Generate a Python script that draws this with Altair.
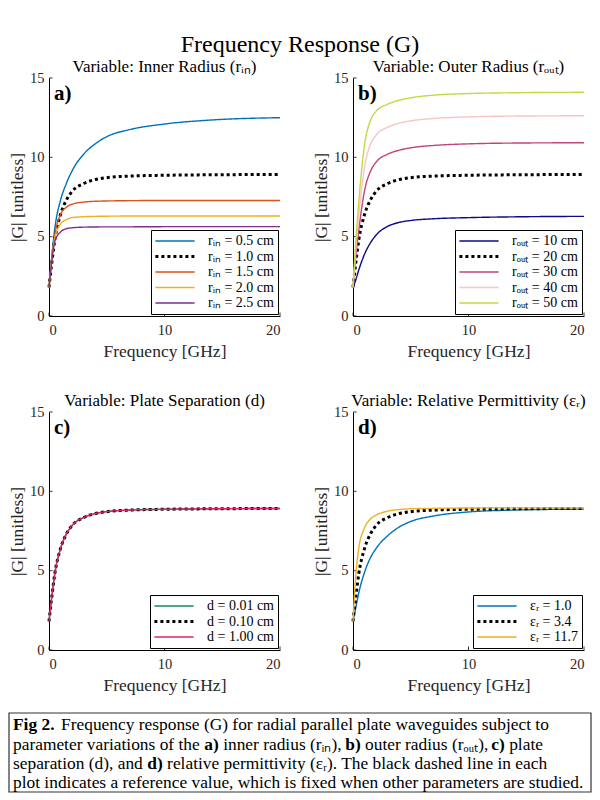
import altair as alt
import pandas as pd

SERIF = "Liberation Serif"

# frequency samples [GHz]
freq = [0, 0.25, 0.5, 1, 1.5, 2, 3, 4, 5, 7, 10, 14, 20]
x_ticks = [0, 10, 20]
y_ticks = [0, 5, 10, 15]

# reference curve (black dotted line in every panel)
g_ref = [1.8, 3.4, 4.8, 6.4, 7.3, 7.85, 8.35, 8.6, 8.72, 8.82, 8.87, 8.9, 8.92]

# a) inner radius
rin_labels = ["rᵢₙ = 0.5 cm", "rᵢₙ = 1.0 cm", "rᵢₙ = 1.5 cm", "rᵢₙ = 2.0 cm", "rᵢₙ = 2.5 cm"]
g_rin_05 = [1.8, 3.8, 5.5, 7.3, 8.35, 9.15, 10.2, 10.85, 11.3, 11.75, 12.1, 12.35, 12.5]
g_rin_15 = [1.8, 3.7, 5.1, 6.4, 6.85, 7.05, 7.18, 7.23, 7.25, 7.27, 7.28, 7.28, 7.28]
g_rin_20 = [1.8, 3.6, 4.9, 5.8, 6.08, 6.2, 6.26, 6.28, 6.29, 6.3, 6.3, 6.3, 6.3]
g_rin_25 = [1.8, 3.5, 4.7, 5.3, 5.5, 5.56, 5.6, 5.61, 5.62, 5.62, 5.63, 5.63, 5.63]
rin_colors = ["#0072BD", "#000000", "#D95319", "#EDB120", "#7E2F8E"]

# b) outer radius
rout_labels = ["rₒᵤₜ = 10 cm", "rₒᵤₜ = 20 cm", "rₒᵤₜ = 30 cm", "rₒᵤₜ = 40 cm", "rₒᵤₜ = 50 cm"]
g_rout_10 = [1.8, 2.3, 2.9, 3.9, 4.6, 5.1, 5.65, 5.9, 6.02, 6.13, 6.2, 6.25, 6.28]
g_rout_30 = [1.8, 3.8, 5.4, 7.9, 9.1, 9.7, 10.2, 10.45, 10.6, 10.75, 10.85, 10.9, 10.92]
g_rout_40 = [1.8, 4.3, 6.3, 9.4, 10.8, 11.4, 11.9, 12.15, 12.3, 12.45, 12.55, 12.6, 12.62]
g_rout_50 = [1.8, 4.8, 7.2, 10.8, 12.3, 12.9, 13.35, 13.6, 13.75, 13.92, 14.02, 14.07, 14.1]
rout_colors = ["#0B0B8C", "#000000", "#C0457A", "#F7C5C2", "#C5D843"]

# c) plate separation (all three curves coincide)
d_labels = ["d = 0.01 cm", "d = 0.10 cm", "d = 1.00 cm"]
g_d_001 = [1.8, 3.4, 4.8, 6.4, 7.3, 7.85, 8.35, 8.6, 8.72, 8.82, 8.87, 8.9, 8.92]
g_d_100 = [1.8, 3.4, 4.8, 6.4, 7.3, 7.85, 8.35, 8.6, 8.72, 8.82, 8.87, 8.9, 8.92]
d_colors = ["#138A5E", "#000000", "#E0245E"]

# d) relative permittivity
er_labels = ["εᵣ = 1.0", "εᵣ = 3.4", "εᵣ = 11.7"]
g_er_10 = [1.8, 2.7, 3.6, 4.9, 5.8, 6.4, 7.2, 7.75, 8.1, 8.45, 8.7, 8.82, 8.88]
g_er_117 = [1.8, 4.8, 6.4, 7.7, 8.25, 8.5, 8.75, 8.85, 8.9, 8.93, 8.95, 8.96, 8.96]
er_colors = ["#0072BD", "#000000", "#EDB120"]

# caption, as (text, bold) runs per line
caption_runs = [
    [("Fig 2.", True), ("Frequency response (G) for radial parallel plate waveguides subject to", False)],
    [("parameter variations of the", False), ("a)", True), ("inner radius (rᵢₙ),", False),
     ("b)", True), ("outer radius (rₒᵤₜ),", False), ("c)", True), ("plate", False)],
    [("separation (d), and", False), ("d)", True),
     ("relative permittivity (εᵣ). The black dashed line in each", False)],
    [("plot indicates a reference value, which is fixed when other parameters are studied.", False)],
]

one = pd.DataFrame({"k": [0]})

# approximate Times/Liberation Serif advance widths (em/1000), used to lay out the caption runs
_W = dict(zip("abcdefghijklmnopqrstuvwxyz",
              [444, 500, 444, 500, 444, 333, 500, 500, 278, 278, 500, 278, 778,
               500, 500, 500, 500, 333, 389, 278, 500, 500, 722, 500, 500, 444]))
_W.update({" ": 250, "(": 333, ")": 333, ",": 250, ".": 250, "=": 564, "F": 556, "G": 722,
           "T": 611, "ε": 440, "ᵢ": 220, "ₙ": 300, "ₒ": 280, "ᵤ": 280, "ₜ": 200, "ᵣ": 240})
_WB = {"F": 611, "i": 278, "g": 500, " ": 250, "2": 500, ".": 250, "a": 500, ")": 333,
       "b": 556, "c": 444, "d": 556}


def em_width(text, bold=False):
    table = _WB if bold else _W
    return sum(table.get(ch, _W.get(ch, 500)) for ch in text) / 1000.0


CAP_FS = 571 / em_width(caption_runs[3][0][0])
PW, PH = 231, 238
TICK = 3.5


def long_df(labels, series, ref_idx):
    rows = []
    for i, (lab, vals) in enumerate(zip(labels, series)):
        for f, g in zip(freq, vals):
            rows.append({"freq": f, "G": g, "series": lab, "w": 3 if i == ref_idx else 1.4})
    return pd.DataFrame(rows)


def panel(labels, series, colors, ref_idx, title, tag):
    df = long_df(labels, series, ref_idx)
    dashes = [[3, 3] if i == ref_idx else [1, 0] for i in range(len(labels))]
    leg = alt.Legend(
        title=None,
        symbolStrokeWidth=alt.ExprRef(expr="datum.value === '%s' ? 3 : 1.4" % labels[ref_idx]),
    )
    x_enc = alt.X("freq:Q", title="Frequency [GHz]", scale=alt.Scale(domain=[0, 20]),
                  axis=alt.Axis(values=x_ticks, labelPadding=7, titlePadding=6))
    y_enc = alt.Y("G:Q", title="|G| [unitless]", scale=alt.Scale(domain=[0, 15]),
                  axis=alt.Axis(values=y_ticks, labelPadding=5, titlePadding=3))
    lines = alt.Chart(df).mark_line(interpolate="monotone", strokeCap="butt").encode(
        x=x_enc,
        y=y_enc,
        color=alt.Color("series:N", scale=alt.Scale(domain=labels, range=colors), legend=leg),
        strokeDash=alt.StrokeDash("series:N", scale=alt.Scale(domain=labels, range=dashes), legend=leg),
        strokeWidth=alt.StrokeWidth("w:Q", scale=None, legend=None),
    )
    # small inward ticks, as in the original figure
    xt = alt.Chart(pd.DataFrame({"freq": x_ticks})).mark_rule(color="black", strokeWidth=0.8).encode(
        x=x_enc, y=alt.value(PH), y2=alt.value(PH - TICK)
    )
    yt = alt.Chart(pd.DataFrame({"G": y_ticks})).mark_rule(color="black", strokeWidth=0.8).encode(
        y=y_enc, x=alt.value(0), x2=alt.value(TICK)
    )
    label = alt.Chart(one).mark_text(
        text=tag, font=SERIF, fontWeight="bold", fontSize=21, align="left", baseline="alphabetic"
    ).encode(x=alt.value(5), y=alt.value(22))
    return alt.layer(xt, yt, lines, label).properties(
        width=PW, height=PH,
        title=alt.TitleParams(title, font=SERIF, fontSize=17, fontWeight="normal", offset=-6),
    )


pa = panel(rin_labels, [g_rin_05, g_ref, g_rin_15, g_rin_20, g_rin_25], rin_colors, 1,
           "Variable: Inner Radius (rᵢₙ)", "a)")
pb = panel(rout_labels, [g_rout_10, g_ref, g_rout_30, g_rout_40, g_rout_50], rout_colors, 1,
           "Variable: Outer Radius (rₒᵤₜ)", "b)")
pc = panel(d_labels, [g_d_001, g_ref, g_d_100], d_colors, 1,
           "Variable: Plate Separation (d)", "c)")
pd_ = panel(er_labels, [g_er_10, g_ref, g_er_117], er_colors, 1,
            "Variable: Relative Permittivity (εᵣ)", "d)")

# the caption view starts at the left edge of the plot area, so its box reaches left of it
CAP_LEFT = -40
CAP_W = 542
cap_layers = [
    alt.Chart(one).mark_rect(fillOpacity=0, stroke="#333333", strokeWidth=1.2).encode(
        x=alt.value(CAP_LEFT), x2=alt.value(CAP_W), y=alt.value(0), y2=alt.value(79)
    )
]
line_y = [12, 31.5, 51, 70]
for runs, y in zip(caption_runs, line_y):
    x = CAP_LEFT + 4
    for text, bold in runs:
        cap_layers.append(
            alt.Chart(one).mark_text(
                text=text, font=SERIF, fontSize=CAP_FS, fontWeight="bold" if bold else "normal",
                align="left", baseline="middle", color="black",
            ).encode(x=alt.value(x), y=alt.value(y))
        )
        gap = 1.5 if text == "Fig 2." else 1.0
        x += (em_width(text, bold) + gap * 0.25) * CAP_FS
caption = alt.layer(*cap_layers).properties(width=CAP_W, height=79)

res = dict(color="independent", strokeDash="independent")
grid = alt.concat(
    pa, pb, pc, pd_, columns=2, spacing={"row": 96, "column": 73}, bounds="flush"
).resolve_scale(**res).resolve_legend(**res)

chart = alt.vconcat(grid, caption, spacing=18).resolve_scale(**res).resolve_legend(**res).properties(
    title=alt.TitleParams("Frequency Response (G)", font=SERIF, fontSize=24, fontWeight="normal",
                          anchor="middle", offset=1),
    padding={"left": 0, "top": 25, "right": 0, "bottom": 0},
).configure_view(
    stroke=None
).configure_axis(
    grid=False,
    ticks=False,
    domainColor="black",
    labelFont=SERIF,
    labelFontSize=14.5,
    labelColor="#262626",
    titleFont=SERIF,
    titleFontSize=17.5,
    titleFontWeight="normal",
    titleColor="#262626",
).configure_legend(
    orient="bottom-right",
    offset=2,
    strokeColor="black",
    fillColor="white",
    padding=4,
    labelFont=SERIF,
    labelFontSize=14,
    labelColor="black",
    symbolType="M-2.8,0H2.8",
    symbolSize=196,
    symbolOffset=13,
    labelOffset=26,
    rowPadding=1.5,
)

chart.save("out.html", embed_options={"renderer": "svg", "actions": False})
